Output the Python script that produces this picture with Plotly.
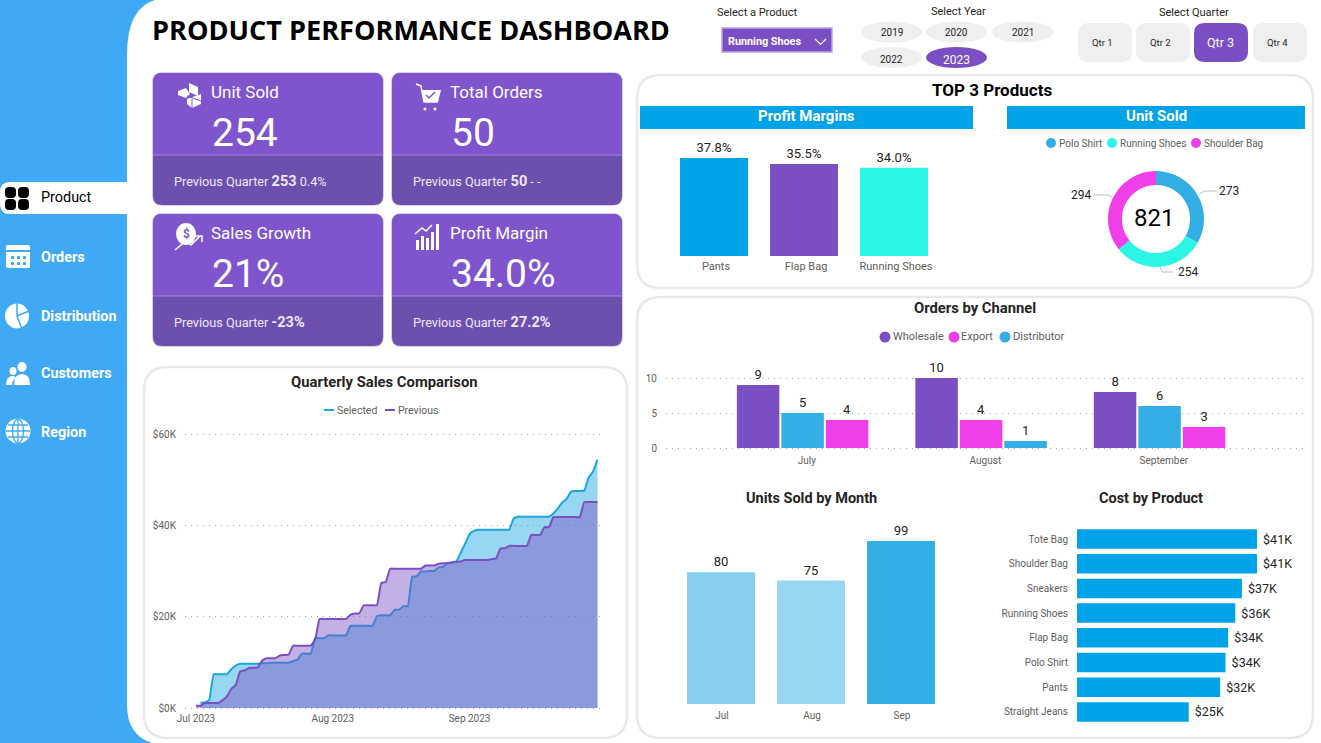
import re
import pandas as pd
import plotly.graph_objs as go

W = 1321
H = 743
FONT = "Roboto"
PURPLE = "#7B4FC4"
CARD_TOP = "#7E55CD"
CARD_BOTTOM = "#6D4FAE"
SIDE_BLUE = "#3FA9F5"
BANNER_BLUE = "#00A2E8"
SKY = "#33AEE5"
TEAL = "#2CF5E6"
PINK = "#F03FE8"
DARK = "#252423"
GREY = "#605E5C"

products_filter = "Running Shoes"
years = ["2019", "2020", "2021", "2022", "2023"]
quarters = ["Qtr 1", "Qtr 2", "Qtr 3", "Qtr 4"]
nav_items = ["Product", "Orders", "Distribution", "Customers", "Region"]

kpi_titles = ["Unit Sold", "Total Orders", "Sales Growth", "Profit Margin"]
kpi_values = ["254", "50", "21%", "34.0%"]
kpi_previous = ["253", "50", "-23%", "27.2%"]
kpi_change = ["0.4%", "- -", "", ""]

top_products = ["Pants", "Flap Bag", "Running Shoes"]
top_margins = [37.8, 35.5, 34.0]

unit_products = ["Polo Shirt", "Running Shoes", "Shoulder Bag"]
unit_values = [273, 254, 294]
unit_total = 821

months_long = ["July", "August", "September"]
orders_wholesale = [9, 10, 8]
orders_export = [4, 4, 3]
orders_distributor = [5, 1, 6]

months_short = ["Jul", "Aug", "Sep"]
units_by_month = [80, 75, 99]

cost_products = ["Tote Bag", "Shoulder Bag", "Sneakers", "Running Shoes", "Flap Bag", "Polo Shirt", "Pants", "Straight Jeans"]
cost_values = [40.6, 40.6, 37.2, 35.7, 34.1, 33.5, 32.3, 25.2]

sales_selected = [
    None, 1.17, 1.2, 1.8, 7.4, 7.4, 7.4, 7.4, 8.5, 9.3, 9.7, 9.7, 9.7, 9.7, 9.7, 9.8,
    9.8, 9.9, 9.9, 9.9, 9.9, 9.9, 10.3, 10.6, 11.9, 11.9, 11.9, 15.3, 15.3, 15.3, 15.9,
    15.9, 15.9, 15.9, 15.9, 18, 18, 18, 18, 18, 18, 20.1, 20.3, 20.3, 20.3, 21.5, 21.5,
    22.3, 22.3, 28.8, 28.8, 29.9, 29.9, 30, 30, 30.8, 30.9, 31.8, 31.9, 32.1, 34, 36,
    38.1, 38.8, 39.05, 39.05, 39.05, 39.05, 39.05, 39.05, 39.05, 39.05, 41.5, 41.9, 41.9,
    41.9, 41.9, 41.9, 41.9, 41.9, 41.9, 42.6, 43.7, 45, 45.8, 47.4, 47.5, 47.5, 47.6,
    50.5, 51.8, 54.4
]
sales_previous = [
    0.5, 0.5, 1.1, 1.1, 1.1, 1.1, 1.7, 2.55, 4.2, 5, 8, 8.2, 8.75, 8.8, 8.9, 10.4,
    10.9, 10.9, 10.9, 11.5, 11.6, 11.7, 13.65, 13.65, 13.65, 13.65, 13.65, 15, 19.5, 19.5, 19.5,
    19.5, 19.5, 19.5, 19.5, 20.4, 20.7, 20.7, 22.5, 22.5, 22.5, 22.5, 27.4, 27.6, 30.5, 30.5,
    30.5, 30.5, 30.5, 30.5, 30.5, 30.5, 31.2, 31.2, 31.2, 31.6, 31.7, 31.7, 31.8, 32, 32.1,
    32.4, 32.4, 32.4, 32.4, 32.4, 32.4, 32.6, 32.7, 34.9, 35, 35.5, 35.5, 35.5, 35.5, 35.5,
    37.9, 37.9, 37.9, 39.6, 39.6, 41.8, 41.8, 41.8, 41.8, 41.8, 41.8, 41.8, 45.1, 45.1, 45.1,
    45.1
]
sales_dates = pd.date_range("2023-07-01", periods = len(sales_previous))
sales_ticks = ["2023-07-01", "2023-08-01", "2023-09-01"]
sales_tick_labels = ["Jul 2023", "Aug 2023", "Sep 2023"]
sales_y_ticks = [0, 20, 40, 60]
sales_y_labels = ["$0K", "$20K", "$40K", "$60K"]

shapes = list()
notes = list()


def px(x):
    return x / W


def py(y):
    return 1 - y / H


def to_paper(d):
    out = list()
    is_x = True
    for token in re.findall(r"[MLQCZ]|-?\d+\.?\d*", d):
        if token in "MLQCZ":
            out.append(token)
            is_x = True
        else:
            out.append(str(round(px(float(token)) if is_x else py(float(token)), 5)))
            is_x = not is_x
    return " ".join(out)


def path(d, fill = "rgba(0,0,0,0)", color = "rgba(0,0,0,0)", width = 0):
    shapes.append(dict(
        type = "path", path = to_paper(d), xref = "paper", yref = "paper",
        fillcolor = fill, line = dict(color = color, width = width), layer = "below"
    ))


def rrect(x0, y0, x1, y1, r, fill, color = "rgba(0,0,0,0)", width = 0):
    path(
        f"M {x0 + r} {y0} L {x1 - r} {y0} Q {x1} {y0} {x1} {y0 + r} L {x1} {y1 - r} Q {x1} {y1} {x1 - r} {y1} "
        f"L {x0 + r} {y1} Q {x0} {y1} {x0} {y1 - r} L {x0} {y0 + r} Q {x0} {y0} {x0 + r} {y0} Z",
        fill, color, width
    )


def ellipse(cx, cy, rx, ry, fill, color = "rgba(0,0,0,0)", width = 0):
    shapes.append(dict(
        type = "circle", xref = "paper", yref = "paper",
        x0 = px(cx - rx), x1 = px(cx + rx), y0 = py(cy + ry), y1 = py(cy - ry),
        fillcolor = fill, line = dict(color = color, width = width), layer = "below"
    ))


def label(x, y, text, size = 12, color = DARK, anchor = "center", family = FONT):
    notes.append(dict(
        x = px(x), y = py(y), xref = "paper", yref = "paper", text = text, showarrow = False,
        xanchor = anchor, yanchor = "middle", borderpad = 0,
        font = dict(family = family, size = size, color = color)
    ))


# page background and sidebar
rrect(0, 0, W, H, 0, SIDE_BLUE)
path(f"M {W} 0 L 155 0 Q 127 8 127 55 L 127 705 Q 127 735 152 743 L {W} 743 Z", "#FFFFFF")
path("M 10 182 L 127 182 L 127 214 L 10 214 Q 0 214 0 204 L 0 192 Q 0 182 10 182 Z", "#FFFFFF")

for ix in [5, 18]:
    for iy in [187, 199]:
        rrect(ix, iy, ix + 11, iy + 11, 4, "#000000")

rrect(6, 245, 30, 268, 2, "#FFFFFF")
path("M 6 250 L 30 250 L 30 252 L 6 252 Z", SIDE_BLUE)
for ix in [11, 17, 23]:
    for iy in [256, 262]:
        rrect(ix, iy, ix + 3, iy + 3, 0.5, SIDE_BLUE)

ellipse(17, 316, 12, 12.5, "#FFFFFF")
path("M 17 316 L 17 303 M 17 316 L 29 311 M 17 316 L 22 329", color = SIDE_BLUE, width = 1.5)

ellipse(22, 367, 4.5, 5, "#FFFFFF")
ellipse(13, 371, 3.5, 4, "#FFFFFF")
path("M 14 385 Q 14 374 22 374 Q 30 374 30 385 Z", "#FFFFFF")
path("M 6 385 Q 6 376 13 376 Q 15 376 16 378 Q 12 380 12 385 Z", "#FFFFFF")

ellipse(18, 431, 12.5, 12.5, "#FFFFFF")
ellipse(18, 431, 5.5, 12, "rgba(0,0,0,0)", SIDE_BLUE, 1.3)
path("M 6 431 L 30 431 M 8 425 L 28 425 M 8 437 L 28 437 M 18 419 L 18 443", color = SIDE_BLUE, width = 1.3)

nav_y = [197, 257, 316, 373, 432]
for index, item in enumerate(nav_items):
    label(39.5, nav_y[index], item if index == 0 else f"<b>{item}</b>", 14.4, "#000000" if index == 0 else "#FFFFFF", "left")

# header and slicers
label(151, 29.5, "<b>PRODUCT PERFORMANCE DASHBOARD</b>", 27.1, "#000000", "left", "Open Sans")

label(757, 13, "Select a Product", 11, DARK)
rrect(722, 28, 832, 52, 0, PURPLE, "#BBA3E8", 1.5)
label(727, 41, f"<b>{products_filter}</b>", 10.8, "#FFFFFF", "left")
path("M 815 39 L 820.5 44.5 L 826 39", color = "#FFFFFF", width = 1.2)

label(958, 11, "Select Year", 11, DARK)
year_x = [891.5, 956.5, 1022.5, 891.5, 956.5]
year_y = [33, 33, 33, 59, 59]
for index, year in enumerate(years):
    selected = year == "2023"
    ellipse(year_x[index], year_y[index] - (1 if index < 3 else 1.5), 30.5, 10.5, PURPLE if selected else "#EFEFEF")
    label(year_x[index], year_y[index] + (1 if selected else 0), year, 12 if selected else 10, "#FFFFFF" if selected else DARK)

label(1194, 12, "Select Quarter", 11, DARK)
qtr_left = [1078, 1136, 1194, 1253]
for index, qtr in enumerate(quarters):
    selected = qtr == "Qtr 3"
    rrect(qtr_left[index], 23, qtr_left[index] + 54, 62, 11, PURPLE if selected else "#EFEFEF")
    label(qtr_left[index] + 24.5 + (2 if selected else 0), 42.5, qtr, 12.5 if selected else 9.5, "#FFFFFF" if selected else DARK)

# KPI cards
card_x = [153, 392, 153, 392]
card_y = [73, 73, 214, 214]
for index, title in enumerate(kpi_titles):
    x0 = card_x[index]
    y0 = card_y[index]
    rrect(x0 - 1, y0 - 1, x0 + 231, y0 + 133, 10, "#D8D2E8")
    rrect(x0, y0, x0 + 230, y0 + 132, 9, CARD_BOTTOM)
    path(
        f"M {x0 + 9} {y0} L {x0 + 221} {y0} Q {x0 + 230} {y0} {x0 + 230} {y0 + 9} L {x0 + 230} {y0 + 82} L {x0} {y0 + 82} L {x0} {y0 + 9} Q {x0} {y0} {x0 + 9} {y0} Z",
        CARD_TOP
    )
    path(f"M {x0} {y0 + 82} L {x0 + 230} {y0 + 82}", color = "#A48CDC", width = 1)
    label(x0 + 56.5, y0 + 19, title, 17, "#FFFFFF", "left")
    label(x0 + 58, y0 + 60, kpi_values[index], 39, "#FFFFFF", "left")
    footer = f"Previous Quarter <span style='font-size:14.5px'><b>{kpi_previous[index]}</b></span>"
    if kpi_change[index]:
        footer += f" {kpi_change[index]}"
    label(x0 + 20, y0 + 108.5, footer, 12.7, "#EEE8FA", "left")

path("M 189 83 L 198 87 L 198 96 L 189 92 Z", "#FFFFFF")
path("M 178 91 L 186 88 L 190 94 L 186 98 L 178 95 Z", "#FFFFFF")
path("M 187 99 L 201 94 L 201 104 L 192 108 L 187 104 Z", "#FFFFFF")
path("M 192 99 L 192 108 M 187 96 L 201 101", color = CARD_TOP, width = 1)
path("M 416 84 L 421 86 L 424 102 L 438 102", color = "#FFFFFF", width = 1.4)
path("M 421 90 L 441 90 L 438 102 L 424 102 Z", "#FFFFFF")
path("M 426 95 L 429 98 L 435 92", color = CARD_TOP, width = 1.5)
ellipse(425, 109, 1.5, 1.5, "#FFFFFF")
ellipse(435, 109, 1.5, 1.5, "#FFFFFF")

ellipse(186, 234, 10, 11, "#FFFFFF")
label(186, 234, "<b>$</b>", 12, CARD_TOP)
path("M 175 250 L 186 241 L 191 245 L 200 236 M 195 236 L 202 236 L 202 242", color = "#FFFFFF", width = 1.5)

for bar_x, bar_top in [(416, 240), (421, 236), (426, 238), (431, 232), (436, 224)]:
    path(f"M {bar_x} 250 L {bar_x} {bar_top} L {bar_x + 3} {bar_top} L {bar_x + 3} 250 Z", "#FFFFFF")
path("M 415 234 L 422 228 L 426 231 L 432 225", color = "#FFFFFF", width = 1.5)

# white panels
rrect(144, 367, 627, 738, 24, "#FFFFFF", "#E9E9E9", 2.5)
rrect(637, 75, 1313, 288, 24, "#FFFFFF", "#E9E9E9", 2.5)
rrect(637, 297, 1313, 738, 24, "#FFFFFF", "#E9E9E9", 2.5)

# panel titles and banners
label(384, 382, "<b>Quarterly Sales Comparison</b>", 14.8, DARK)
label(992, 90, "<b>TOP 3 Products</b>", 17, "#000000")
rrect(640, 106, 973, 129, 0, BANNER_BLUE)
rrect(1007, 106, 1305, 129, 0, BANNER_BLUE)
label(806, 116, "<b>Profit Margins</b>", 15, "#FFFFFF")
label(1156, 116, "<b>Unit Sold</b>", 15, "#FFFFFF")
label(974.5, 308, "<b>Orders by Channel</b>", 14.8, DARK)
label(812, 498, "<b>Units Sold by Month</b>", 14.5, DARK)
label(1151, 498, "<b>Cost by Product</b>", 14.5, DARK)

# hand placed legends
path("M 324 410 L 334 410", color = "#1AA6DF", width = 2)
label(336, 410, "Selected", 10.5, GREY, "left")
path("M 385 410 L 395 410", color = PURPLE, width = 2)
label(397, 410, "Previous", 10.5, GREY, "left")

for cx, tx, name, color in zip([1051, 1112, 1196], [1058, 1119, 1203], unit_products, [SKY, TEAL, PINK]):
    ellipse(cx, 143, 5, 5, color)
    label(tx, 143, name, 10, GREY, "left")

for cx, tx, name, color in zip([885, 954, 1005], [891.5, 960.5, 1011.5], ["Wholesale", "Export", "Distributor"], [PURPLE, PINK, SKY]):
    ellipse(cx, 337, 5.5, 5.5, color)
    label(tx, 337, name, 11, GREY, "left")

# donut labels
label(1154, 218, str(unit_total), 24, "#000000")
label(1229, 191, str(unit_values[0]), 12, DARK)
label(1188, 272, str(unit_values[1]), 12, DARK)
label(1081, 195, str(unit_values[2]), 12, DARK)
path("M 1199 194 L 1205 191 L 1217 191", color = "#BDBDBD", width = 1)
path("M 1160 267 L 1162 272 L 1173 272", color = "#BDBDBD", width = 1)
path("M 1094 195 L 1108 195 L 1112 197", color = "#BDBDBD", width = 1)

fig = go.Figure()


def axis_x(left, right, size = 10, **kwargs):
    return dict(
        domain = [px(left), px(right)], showgrid = False, zeroline = False, showline = False, automargin = False,
        tickfont = dict(family = FONT, size = size, color = GREY), ticks = "", fixedrange = True, **kwargs
    )


def axis_y(top, bottom, **kwargs):
    return dict(
        domain = [py(bottom), py(top)], zeroline = False, showline = False, automargin = False,
        tickfont = dict(family = FONT, size = 10, color = GREY), ticks = "", fixedrange = True, **kwargs
    )


# sales area chart
for name, values, line_color, fill_color in [
    ("Selected", sales_selected, "#1AA6DF", "rgba(26,166,223,0.45)"),
    ("Previous", sales_previous, PURPLE, "rgba(123,79,196,0.45)")
]:
    fig.add_trace(go.Scatter(
        x = sales_dates, y = values, name = name, mode = "lines", fill = "tozeroy", fillcolor = fill_color,
        line = dict(color = line_color, width = 2, shape = "spline", smoothing = 0.35),
        xaxis = "x", yaxis = "y", cliponaxis = False
    ))

# profit margin bars
fig.add_trace(go.Bar(
    x = top_products, y = top_margins, width = 0.755, marker = dict(color = [BANNER_BLUE, PURPLE, TEAL], line = dict(width = 0)),
    text = [f"{value:.1f}%" for value in top_margins], textposition = "outside", cliponaxis = False,
    textfont = dict(family = FONT, size = 13, color = DARK), xaxis = "x2", yaxis = "y2"
))

# donut
fig.add_trace(go.Pie(
    labels = unit_products, values = unit_values, hole = 0.71, sort = False, direction = "clockwise", rotation = 0,
    marker = dict(colors = [SKY, TEAL, PINK], line = dict(width = 0)), textinfo = "none",
    domain = dict(x = [px(1156 - 48), px(1156 + 48)], y = [py(219 + 48), py(219 - 48)])
))

# orders by channel, each month sorted by its own values like the original
channels = [
    ("Wholesale", orders_wholesale, PURPLE),
    ("Export", orders_export, PINK),
    ("Distributor", orders_distributor, SKY)
]
step = 44.5 / 178.5
for name, values, color in channels:
    offsets = list()
    for month in range(len(months_long)):
        ordered = sorted(channels, key = lambda c: -c[1][month])
        rank = [c[0] for c in ordered].index(name)
        offsets.append(-0.37 + rank * step)
    fig.add_trace(go.Bar(
        x = months_long, y = values, name = name, width = 42.5 / 178.5, offset = offsets,
        marker = dict(color = color, line = dict(width = 0)), text = values, textposition = "outside", cliponaxis = False,
        textfont = dict(family = FONT, size = 13, color = DARK), xaxis = "x3", yaxis = "y3"
    ))

# units by month
fig.add_trace(go.Bar(
    x = months_short, y = units_by_month, width = 0.755, marker = dict(color = ["#87CFEE", "#99D6F1", SKY], line = dict(width = 0)),
    text = units_by_month, textposition = "outside", cliponaxis = False,
    textfont = dict(family = FONT, size = 13, color = DARK), xaxis = "x4", yaxis = "y4"
))

# cost by product
fig.add_trace(go.Bar(
    x = cost_values, y = cost_products, orientation = "h", width = 0.79, marker = dict(color = BANNER_BLUE, line = dict(width = 0)),
    text = [f"\u00a0${round(value)}K" for value in cost_values], textposition = "outside", cliponaxis = False,
    textfont = dict(family = FONT, size = 12.5, color = DARK), xaxis = "x5", yaxis = "y5"
))

day = pd.Timedelta(days = 1)
grid = dict(showgrid = True, gridcolor = "#A6A6A6", gridwidth = 1, griddash = "1px,5px")

fig.update_layout(
    width = W, height = H, margin = dict(l = 0, r = 0, t = 0, b = 0), showlegend = False,
    paper_bgcolor = "#FFFFFF", plot_bgcolor = "rgba(0,0,0,0)", barmode = "overlay",
    font = dict(family = FONT), shapes = shapes, annotations = notes,
    xaxis = axis_x(
        185, 605, anchor = "y", type = "date",
        range = [pd.Timestamp("2023-07-01") - 2.5 * day, pd.Timestamp("2023-07-01") + 92.7 * day],
        tickmode = "array", tickvals = sales_ticks, ticktext = sales_tick_labels, ticklabelstandoff = 1
    ),
    yaxis = axis_y(
        432, 710, anchor = "x", range = [-2 / 4.567, 60 + 2 / 4.567], tickmode = "array", tickvals = sales_y_ticks,
        ticktext = sales_y_labels, ticklabelstandoff = 8, **grid
    ),
    xaxis2 = axis_x(669, 939, size = 11, anchor = "y2", type = "category", ticklabelstandoff = 2, ticklabelshift = 2),
    yaxis2 = axis_y(130, 256, anchor = "x2", range = [0, 48.6], visible = False),
    xaxis3 = axis_x(666, 1308, anchor = "y3", type = "category", range = [-0.767, 2.83], ticklabelstandoff = 3, ticklabelshift = 4),
    yaxis3 = axis_y(376, 450, anchor = "x3", range = [-2 / 7, 10 + 2 / 7], tickmode = "array", tickvals = [0, 5, 10], ticklabelstandoff = 8, **grid),
    xaxis4 = axis_x(676, 946, anchor = "y4", type = "category", ticklabelstandoff = 4, ticklabelshift = 1),
    yaxis4 = axis_y(520, 704, anchor = "x4", range = [0, 184 / 1.646], visible = False),
    xaxis5 = axis_x(1077, 1300, anchor = "y5", range = [0, 223 / 4.433], visible = False),
    yaxis5 = axis_y(526.65, 724.25, anchor = "x5", type = "category", range = [7.5, -0.5], ticklabelstandoff = 8, showgrid = False)
)

fig.write_html(
    "out.html",
    config = dict(displayModeBar = False, responsive = False),
    post_script = "document.body.style.margin = '0'; document.body.style.overflow = 'hidden';"
)
